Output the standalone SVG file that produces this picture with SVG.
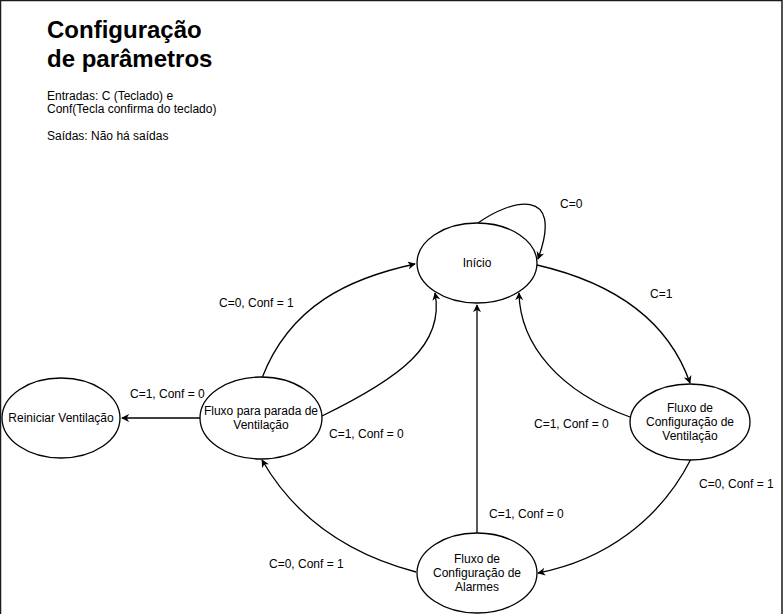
<svg xmlns="http://www.w3.org/2000/svg" width="783" height="614" viewBox="0 0 783 614">
<style>
.n{fill:#fff;stroke:#000;stroke-width:1.3}
.t{font-family:"Liberation Sans",Arial,sans-serif;font-size:12px;fill:#000;text-anchor:middle}
.l{font-family:"Liberation Sans",Arial,sans-serif;font-size:12px;fill:#000}
.e{fill:none;stroke:#000;stroke-width:1.3;marker-end:url(#a)}
.h{font-family:"Liberation Sans",Arial,sans-serif;font-size:24px;font-weight:bold;fill:#000}
</style>
<defs>
<marker id="a" viewBox="0 0 10 10" refX="9" refY="5" markerWidth="8" markerHeight="8" markerUnits="userSpaceOnUse" orient="auto">
<path d="M0,0 L10,5 L0,10 L3,5 Z" fill="#000"/>
</marker>
</defs>
<rect x="0.5" y="0.5" width="781.5" height="640" fill="#fff" stroke="#1a1a1a" stroke-width="1.5"/>
<g id="title">
<text class="h" x="47" y="38">Configuração</text>
<text class="h" x="47" y="67">de parâmetros</text>
<text class="l" x="47" y="100">Entradas: C (Teclado) e</text>
<text class="l" x="47" y="113">Conf(Tecla confirma do teclado)</text>
<text class="l" x="47" y="140">Saídas: Não há saídas</text>
</g>
<g id="connectors">
<path class="e" d="M478,223 C510,200 565,185 538,259"/>
<path class="e" d="M537,265 C615,283 668,320 690,383"/>
<path class="e" d="M630,417 C560,392 520,345 519,293"/>
<path class="e" d="M691,459 C660,520 605,560 538,573"/>
<path class="e" d="M477,533 L477,305"/>
<path class="e" d="M416,572 C340,552 292,512 262,460"/>
<path class="e" d="M322,416 C400,378 445,345 435,293"/>
<path class="e" d="M262,378 C290,305 350,278 415,264"/>
<path class="e" d="M200,418 L122,418"/>
<text class="l" x="560" y="208">C=0</text>
<text class="l" x="650" y="298">C=1</text>
<text class="l" x="534" y="428">C=1, Conf = 0</text>
<text class="l" x="699" y="488">C=0, Conf = 1</text>
<text class="l" x="489" y="518">C=1, Conf = 0</text>
<text class="l" x="269" y="568">C=0, Conf = 1</text>
<text class="l" x="329" y="438">C=1, Conf = 0</text>
<text class="l" x="130" y="398">C=1, Conf = 0</text>
<text class="l" x="219" y="307">C=0, Conf = 1</text>
</g>
<g id="inicio">
<ellipse class="n" cx="477" cy="263" rx="60" ry="40"/>
<text class="t" x="477" y="267">Início</text>
</g>
<g id="ventilacao">
<ellipse class="n" cx="690" cy="422" rx="60" ry="38"/>
<text class="t" x="690" y="412">Fluxo de</text>
<text class="t" x="690" y="426">Configuração de</text>
<text class="t" x="690" y="440">Ventilação</text>
</g>
<g id="reiniciar">
<ellipse class="n" cx="61" cy="418" rx="59" ry="40"/>
<text class="t" x="61" y="422">Reiniciar Ventilação</text>
</g>
<g id="parada">
<ellipse class="n" cx="261" cy="418" rx="61" ry="41"/>
<text class="t" x="261" y="415">Fluxo para parada de</text>
<text class="t" x="261" y="429">Ventilação</text>
</g>
<g id="alarmes">
<ellipse class="n" cx="477" cy="573" rx="60" ry="40"/>
<text class="t" x="477" y="563">Fluxo de</text>
<text class="t" x="477" y="577">Configuração de</text>
<text class="t" x="477" y="591">Alarmes</text>
</g>
</svg>
